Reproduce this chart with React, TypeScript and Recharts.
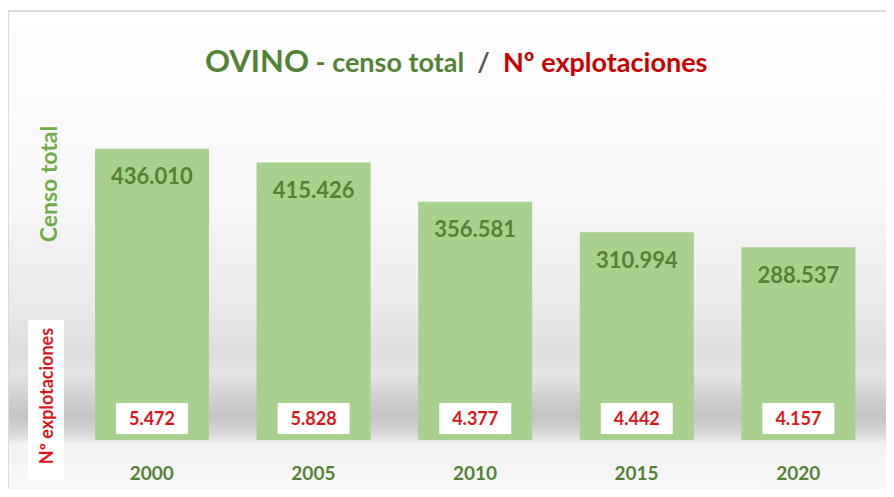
import { BarChart, Bar, XAxis, YAxis, LabelList } from "recharts";

const years = ["2000", "2005", "2010", "2015", "2020"];
const censo = [436010, 415426, 356581, 310994, 288537];
const explotaciones = [5472, 5828, 4377, 4442, 4157];

const data = years.map((y, i) => ({
  year: y,
  censo: censo[i],
  explotaciones: explotaciones[i],
}));

const FONT = "Lato, 'Open Sans', sans-serif";
const GREEN = "#548235";
const RED = "#e0151b";

// separador de miles con punto, también para 4 cifras
function miles(v: number) {
  return String(v).replace(/\B(?=(\d{3})+(?!\d))/g, ".");
}

function CajaExplot(props: any) {
  const { x, y, width, height, value } = props;
  const cx = Number(x) + Number(width) / 2;
  const bottom = Number(y) + Number(height);
  return (
    <g>
      <rect x={cx - 36} y={bottom - 37} width={72} height={31} fill="#fff" />
      <text
        x={cx}
        y={bottom - 15}
        textAnchor="middle"
        fill={RED}
        fontSize={18}
        fontWeight="bold"
        fontFamily={FONT}
      >
        {miles(Number(value))}
      </text>
    </g>
  );
}

export default function App() {
  return (
    <div
      style={{
        position: "relative",
        width: 894,
        height: 497,
        margin: -8,
        overflow: "hidden",
        background: "#fff",
        fontFamily: FONT,
      }}
    >
      <div
        style={{
          position: "absolute",
          left: 7,
          top: 10,
          width: 900,
          height: 500,
          border: "2px solid #dadada",
          background:
            "linear-gradient(to bottom, #ffffff 0px, #f7f7f7 190px, #ebebeb 290px, #dedede 340px, #e4e4e4 362px, #d0d0d0 385px, #c4c4c4 405px, #d8d8d8 422px, #f3f3f3 432px, #f8f8f8 490px)",
        }}
      />
      <div
        style={{
          position: "absolute",
          left: 205,
          top: 40,
          fontWeight: "bold",
          whiteSpace: "pre",
          lineHeight: "40px",
        }}
      >
        <span style={{ color: GREEN, fontSize: 31 }}>OVINO</span>
        <span style={{ color: GREEN, fontSize: 27 }}> - censo total  </span>
        <span style={{ color: "#595959", fontSize: 27 }}>/  </span>
        <span style={{ color: "#cc0000", fontSize: 27 }}>Nº explotaciones</span>
      </div>
      <div
        style={{
          position: "absolute",
          left: 48,
          top: 184,
          transform: "translate(-50%, -50%) rotate(-90deg)",
          color: "#70ad47",
          fontWeight: "bold",
          fontSize: 23,
          whiteSpace: "nowrap",
        }}
      >
        Censo total
      </div>
      <div
        style={{
          position: "absolute",
          left: 28,
          top: 320,
          width: 36,
          height: 160,
          background: "#fff",
        }}
      />
      <div
        style={{
          position: "absolute",
          left: 46,
          top: 396,
          transform: "translate(-50%, -50%) rotate(-90deg)",
          color: RED,
          fontWeight: "bold",
          fontSize: 18,
          whiteSpace: "nowrap",
        }}
      >
        Nº explotaciones
      </div>
      <div style={{ position: "absolute", left: 0, top: 0 }}>
        <BarChart
          width={894}
          height={497}
          data={data}
          margin={{ top: 106, right: 15, bottom: 7, left: 71 }}
          barCategoryGap={24}
        >
          <XAxis
            dataKey="year"
            axisLine={false}
            tickLine={false}
            tickSize={0}
            tickMargin={27}
            height={50}
            tick={{ fill: GREEN, fontSize: 19, fontWeight: "bold", fontFamily: FONT }}
          />
          <YAxis hide domain={[0, 500000]} />
          <Bar dataKey="censo" fill="#a9d18e" isAnimationActive={false}>
            <LabelList
              dataKey="censo"
              position="insideTop"
              offset={20}
              formatter={(v: any) => miles(Number(v))}
              style={{ fill: GREEN, fontSize: 22, fontWeight: "bold", fontFamily: FONT }}
            />
            <LabelList dataKey="explotaciones" content={<CajaExplot />} />
          </Bar>
        </BarChart>
      </div>
    </div>
  );
}
